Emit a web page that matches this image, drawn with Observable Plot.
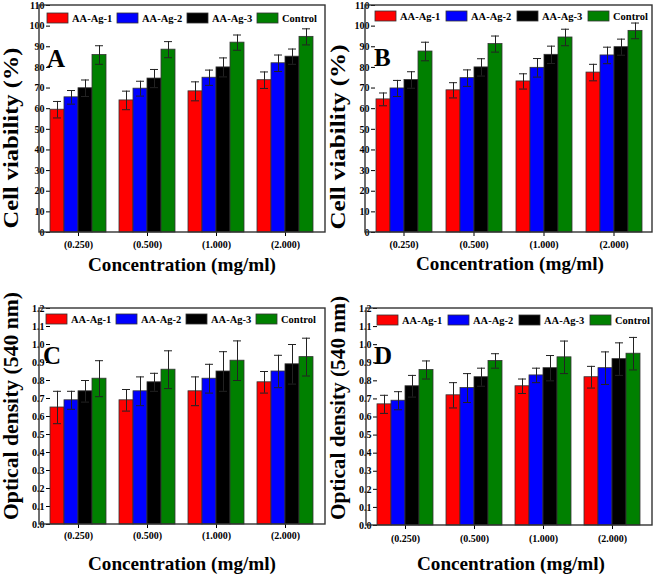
<!DOCTYPE html>
<html><head><meta charset="utf-8">
<script src="https://cdn.jsdelivr.net/npm/d3@7"></script>
<script src="https://cdn.jsdelivr.net/npm/@observablehq/plot@0.6"></script>
<style>
body{margin:0;background:#fff;}
#wrap{position:relative;width:653px;height:576px;overflow:hidden;background:#fff;}
.panel{position:absolute;}
</style></head><body><div id="wrap"></div>
<script>
// ---- data ----
const concentrations = ["(0.250)", "(0.500)", "(1.000)", "(2.000)"];
const seriesNames = ["AA-Ag-1", "AA-Ag-2", "AA-Ag-3", "Control"];
const seriesColors = ["#ff0000", "#0000ff", "#000000", "#008000"];

// rows = series, columns = concentrations
const meansA = [[59.5, 64.0, 68.4, 73.8], [65.5, 69.7, 75.0, 82.0], [69.9, 74.6, 80.0, 85.2], [86.0, 88.6, 92.0, 94.8]];
const errsA  = [[4.0, 4.5, 4.6, 4.0], [3.3, 3.6, 3.7, 4.0], [4.0, 4.4, 4.6, 3.7], [4.5, 3.9, 3.7, 3.9]];
const meansB = [[64.5, 68.9, 73.2, 77.5], [69.8, 74.8, 79.8, 85.8], [73.9, 80.0, 86.1, 89.8], [87.7, 91.3, 94.5, 97.7]];
const errsB  = [[3.1, 3.7, 3.7, 4.0], [3.9, 4.0, 4.5, 4.0], [4.0, 4.2, 4.2, 3.9], [4.5, 3.9, 4.0, 3.8]];
const meansC = [[0.65, 0.69, 0.74, 0.79], [0.69, 0.74, 0.81, 0.85], [0.74, 0.79, 0.85, 0.89], [0.81, 0.86, 0.91, 0.93]];
const errsC  = [[0.09, 0.06, 0.08, 0.06], [0.05, 0.08, 0.08, 0.09], [0.06, 0.05, 0.11, 0.11], [0.10, 0.105, 0.11, 0.105]];
const meansD = [[0.67, 0.72, 0.77, 0.82], [0.69, 0.76, 0.83, 0.87], [0.77, 0.82, 0.87, 0.92], [0.86, 0.91, 0.93, 0.95]];
const errsD  = [[0.05, 0.07, 0.04, 0.06], [0.05, 0.08, 0.04, 0.09], [0.06, 0.05, 0.07, 0.09], [0.05, 0.04, 0.09, 0.09]];

const viabilityTicks = [0, 10, 20, 30, 40, 50, 60, 70, 80, 90, 100, 110];
const densityTicks = [0, 0.1, 0.2, 0.3, 0.4, 0.5, 0.6, 0.7, 0.8, 0.9, 1.0, 1.1, 1.2];
const xTitle = "Concentration (mg/ml)";
const viabilityTitle = "Cell viability (%)";
const densityTitle = "Optical density (540 nm)";

const FONT = "'Liberation Serif', 'Times New Roman', serif";

function rowsOf(means, errs) {
  const rows = [];
  seriesNames.forEach((s, i) => concentrations.forEach((c, j) => {
    rows.push({series: s, conc: c, value: means[i][j], err: errs[i][j]});
  }));
  return rows;
}

function makePanel(cfg) {
  const rows = rowsOf(cfg.means, cfg.errs);
  const m = cfg.margin;
  const svg = Plot.plot({
    width: cfg.width, height: cfg.height,
    marginLeft: m.l, marginRight: m.r, marginTop: m.t, marginBottom: m.b,
    style: {fontFamily: FONT, fontSize: "10px", fontWeight: "bold", background: "white", overflow: "visible", color: "#000"},
    fx: {domain: concentrations, paddingInner: 0.186, paddingOuter: 0.143, axis: "bottom", label: null, tickSize: 4, tickPadding: cfg.fxPad},
    x: {domain: seriesNames, padding: 0, axis: null},
    y: {domain: [0, cfg.yMax], ticks: cfg.yTicks, tickSize: 4, tickPadding: 2, tickFormat: cfg.tickFormat, label: null},
    color: {domain: seriesNames, range: seriesColors},
    marks: [
      Plot.barY(rows, {fx: "conc", x: "series", y: "value", fill: "series", stroke: "#333", strokeWidth: 0.8}),
      Plot.ruleX(rows, {fx: "conc", x: "series", y1: d => d.value - d.err, y2: d => d.value + d.err, stroke: "#222", strokeWidth: 1}),
      Plot.tickY(rows, {fx: "conc", x: "series", y: d => d.value + d.err, insetLeft: 3, insetRight: 3, stroke: "#222", strokeWidth: 1}),
      Plot.tickY(rows, {fx: "conc", x: "series", y: d => d.value - d.err, insetLeft: 3, insetRight: 3, stroke: "#222", strokeWidth: 1})
    ]
  });
  const g = d3.select(svg);
  // frame
  g.append("rect")
    .attr("x", m.l).attr("y", m.t)
    .attr("width", cfg.width - m.l - m.r).attr("height", cfg.height - m.t - m.b)
    .attr("fill", "none").attr("stroke", "#333").attr("stroke-width", 1.4);
  // x title
  g.append("text").text(xTitle)
    .attr("x", cfg.xt[0]).attr("y", cfg.xt[1])
    .attr("text-anchor", "middle").attr("font-size", 19.5).attr("font-weight", "bold")
    .attr("font-family", FONT).attr("textLength", 188).attr("lengthAdjust", "spacingAndGlyphs");
  // y title
  g.append("text").text(cfg.yTitle)
    .attr("transform", `translate(${cfg.yt[0]},${cfg.yt[1]}) rotate(-90)`)
    .attr("text-anchor", "middle").attr("font-size", 21).attr("font-weight", "bold")
    .attr("font-family", FONT).attr("textLength", cfg.yt[2]).attr("lengthAdjust", "spacingAndGlyphs");
  // panel letter
  g.append("text").text(cfg.letter)
    .attr("x", cfg.lt[0]).attr("y", cfg.lt[1]).attr("text-anchor", "start")
    .attr("font-size", 25).attr("font-weight", "bold").attr("font-family", FONT);
  // legend
  seriesNames.forEach((s, i) => {
    const x = cfg.leg[0] + i * cfg.leg[2];
    g.append("rect").attr("x", x).attr("y", cfg.leg[1]).attr("width", 21).attr("height", 10)
      .attr("fill", seriesColors[i]).attr("stroke", "#333").attr("stroke-width", 0.8);
    g.append("text").text(s).attr("x", x + 25).attr("y", cfg.leg[1] + 9).attr("text-anchor", "start")
      .attr("font-size", 10.5).attr("font-weight", "bold").attr("font-family", FONT);
  });
  const div = document.createElement("div");
  div.className = "panel";
  div.style.left = cfg.left + "px";
  div.style.top = cfg.top + "px";
  div.appendChild(svg);
  document.getElementById("wrap").appendChild(div);
}

const fmtInt = d => d3.format("d")(d);
const fmt1 = d => d3.format(".1f")(d);

makePanel({means: meansA, errs: errsA, yMax: 110, yTicks: viabilityTicks, tickFormat: fmtInt, yTitle: viabilityTitle, letter: "A",
  left: 0, top: 0, width: 326, height: 290, margin: {l: 39, r: 1, t: 5, b: 58}, fxPad: 4,
  xt: [182, 271], yt: [18, 138, 181], lt: [47, 67], leg: [47, 13, 70]});
makePanel({means: meansB, errs: errsB, yMax: 110, yTicks: viabilityTicks, tickFormat: fmtInt, yTitle: viabilityTitle, letter: "B",
  left: 326, top: 0, width: 327, height: 290, margin: {l: 39, r: 1, t: 5, b: 58}, fxPad: 4,
  xt: [184, 270], yt: [19, 137, 185], lt: [48, 66], leg: [49, 11, 71]});
makePanel({means: meansC, errs: errsC, yMax: 1.2, yTicks: densityTicks, tickFormat: fmt1, yTitle: densityTitle, letter: "C",
  left: 0, top: 290, width: 326, height: 286, margin: {l: 39, r: 1, t: 18, b: 52}, fxPad: 3,
  xt: [182, 280], yt: [18, 116, 228], lt: [43, 74], leg: [46, 24, 70]});
makePanel({means: meansD, errs: errsD, yMax: 1.2, yTicks: densityTicks, tickFormat: fmt1, yTitle: densityTitle, letter: "D",
  left: 326, top: 290, width: 327, height: 286, margin: {l: 40, r: 1, t: 18, b: 51}, fxPad: 5,
  xt: [185, 280], yt: [19, 118, 224], lt: [48, 74], leg: [51, 25, 71]});
</script></body></html>
